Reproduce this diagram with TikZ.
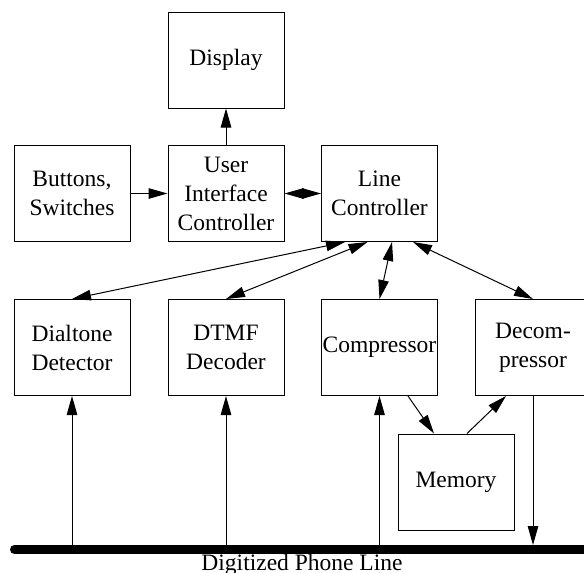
\documentclass[tikz,border=0pt]{standalone}
\usepackage{fontspec}
\setmainfont{Liberation Serif}
\usetikzlibrary{arrows.meta}
\begin{document}
\begin{tikzpicture}[x=1pt,y=-1pt,
  box/.style={draw, line width=1pt, minimum width=116pt, minimum height=96pt, inner sep=0pt, align=center, font=\fontsize{23.5}{29}\selectfont},
  conn/.style={line width=1pt, -{Triangle[length=19pt,width=10.5pt]}},
  biconn/.style={line width=1pt, {Triangle[length=19pt,width=10.5pt]}-{Triangle[length=19pt,width=10.5pt]}},
  bus/.style={line width=9pt, line cap=round}]
\useasboundingbox (0,0) rectangle (584,573);
\node[box] (disp) at (226,60) {Display};
\node[box] (btn) at (72,193.5) {Buttons,\\Switches};
\node[box] (ui) at (226,193.5) {User\\Interface\\Controller};
\node[box] (line) at (379.5,193.5) {Line\\Controller};
\node[box] (dial) at (72,347.5) {Dialtone\\Detector};
\node[box] (dtmf) at (226,347.5) {DTMF\\Decoder};
\node[box] (comp) at (379.5,347.5) {Compressor};
\node[box] (decomp) at (533,347.5) {Decom-\\pressor};
\node[box] (mem) at (456,482) {Memory};
\coordinate (busL) at (14.5,549.5);
\coordinate (busR) at (600,549.5);
\draw[bus] (busL) -- (busR);
\node[anchor=base, inner sep=0pt, font=\fontsize{23.5}{29}\selectfont] (lbl) at (302,570) {Digitized Phone Line};
\coordinate (bdial) at (72,549.5);
\coordinate (bdtmf) at (226,549.5);
\coordinate (bcomp) at (379.5,549.5);
\coordinate (bdec) at (533,545);
\draw[conn] (ui.north) -- (disp.south);
\draw[conn] (btn.east) -- (ui.west);
\draw[biconn] (ui.east) -- (line.west);
\draw[biconn] ([xshift=-34.5pt]line.south) -- (dial.north);
\draw[biconn] ([xshift=-12pt]line.south) -- (dtmf.north);
\draw[biconn] ([xshift=12.5pt]line.south) -- (comp.north);
\draw[biconn] ([xshift=33.5pt]line.south) -- (decomp.north);
\draw[conn] (bdial) -- (dial.south);
\draw[conn] (bdtmf) -- (dtmf.south);
\draw[conn] (bcomp) -- (comp.south);
\draw[conn] ([xshift=28.5pt]comp.south) -- ([xshift=-22pt]mem.north);
\draw[conn] ([xshift=11pt]mem.north) -- ([xshift=-27pt]decomp.south);
\draw[conn] (decomp.south) -- (bdec);
\end{tikzpicture}
\end{document}
